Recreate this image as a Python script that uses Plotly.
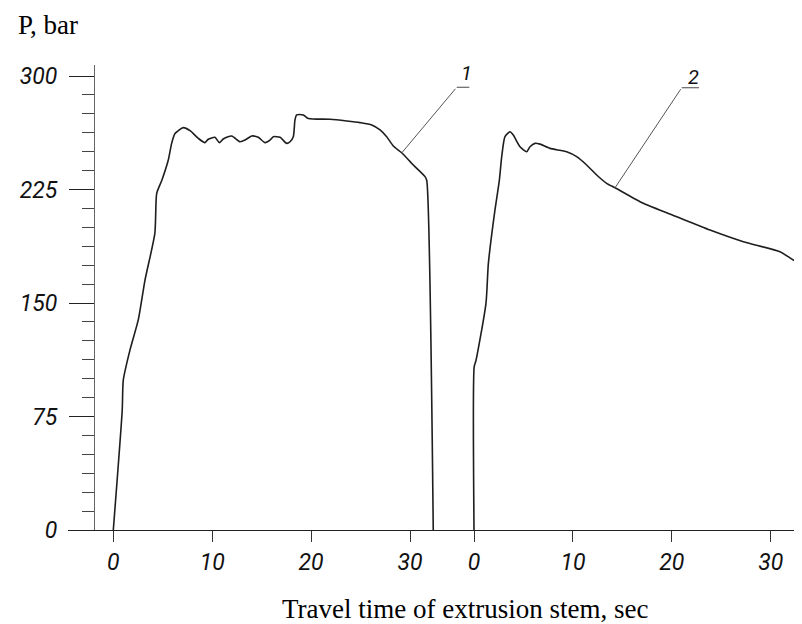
import plotly.graph_objects as go

# ---- data ----
# Curve 1: time (s) and pressure (bar)
t1 = [0, 0.9, 1.01, 1.69, 2.53, 3.2, 4.2, 4.39, 4.9, 5.56, 5.9, 6.24, 7.08, 7.76, 8.6,
      9.27, 9.6, 10.28, 10.72, 11.12, 11.97, 12.81, 13.32, 13.99, 14.66, 15.34, 15.84,
      16.18, 16.86, 17.53, 17.87, 18.2, 18.37, 18.54, 19.21, 19.72, 21.91, 23.6, 24.94,
      26.13, 26.97, 27.64, 28.31, 29.16, 30.33, 31.52, 31.69, 32.35]
p1 = [0, 79, 99, 119, 139, 165, 196, 222.5, 231, 244.5, 255.5, 262, 265.9, 263.9, 258.8,
      256, 258.2, 259.5, 256, 258.4, 260.4, 256.6, 257.7, 260.4, 259.5, 256, 257.7,
      259.9, 259.5, 255.5, 256.6, 259.9, 271, 274.3, 274.3, 272, 271.4, 270.3, 269.2,
      267.7, 264.4, 259.9, 253.8, 249.3, 241.2, 233.5, 231, 0]

# Curve 2
t2 = [0, 0.02, 0.2, 1.21, 1.45, 2.12, 2.56, 2.8, 3.13, 3.64, 3.97, 4.65, 5.33, 5.66, 6.17,
      6.67, 7.68, 9.37, 10.38, 11.39, 12.4, 13.41, 14.26, 17.12, 20.49, 23.86, 27.23,
      30.94, 32.29, 33.14]
p2 = [0, 108, 112, 149.8, 176, 211.5, 231, 246.7, 259.9, 263.2, 261, 253.3, 250, 253.3, 255.5,
      255, 252.2, 250, 246.7, 241.2, 234.6, 229.1, 226.2, 215.9, 207, 198.2, 190.5,
      183.9, 178.4, 175.8]

y_ticks = [0, 75, 150, 225, 300]
x_ticks = [0, 10, 20, 30]
curve_labels = ["1", "2"]
leader_points = [(29.2, 249.5), (14.26, 226.2)]   # where the leader lines touch the curves

# ---- geometry (page has an 8px body margin) ----
OFF = 8
W, H = 802 - OFF, 624 - OFF
ML, MR, MT, MB = 68 - OFF, 0, 65 - OFF, 94
PW, PH = W - ML - MR, H - MT - MB


def px(x):
    return (x - OFF - ML) / PW


def py(y):
    return (H - MB - (y - OFF)) / PH


tick_font = dict(family="Roboto", size=23, color="#111", style="italic")
curve_col = "#1e1e1e"

fig = go.Figure()
fig.add_trace(go.Scatter(x=t1, y=p1, mode="lines", xaxis="x", yaxis="y",
                         line=dict(color=curve_col, width=1.6, shape="spline", smoothing=0.6),
                         showlegend=False))
fig.add_trace(go.Scatter(x=t2, y=p2, mode="lines", xaxis="x2", yaxis="y",
                         line=dict(color=curve_col, width=1.6, shape="spline", smoothing=0.6),
                         showlegend=False))

split = 0.5204
X1R = [-4.58, 34.04]
X2R = [-2.43, 33.16]
YR = [0, 307.3]
xcommon = dict(showgrid=False, zeroline=False, showline=True, linecolor="#222", linewidth=1.3,
               ticks="outside", ticklen=11, tickwidth=1, tickcolor="#333",
               tickvals=x_ticks, tickfont=tick_font, anchor="y", ticklabelstandoff=0)
fig.update_layout(
    width=W, height=H,
    margin=dict(l=ML, r=MR, t=MT, b=MB, autoexpand=False),
    paper_bgcolor="white", plot_bgcolor="white",
    xaxis=dict(domain=[0, split], range=X1R, **xcommon),
    xaxis2=dict(domain=[split, 1], range=X2R, **xcommon),
    yaxis=dict(range=YR, anchor="free", position=px(94), showgrid=False, zeroline=False,
               showline=True, linecolor="#666", linewidth=1.3,
               tickvals=y_ticks, ticks="outside", ticklen=25, tickwidth=1, tickcolor="#222",
               tickfont=tick_font, ticklabelstandoff=7,
               minor=dict(dtick=12.5, tick0=0, ticks="outside", ticklen=12, tickwidth=1, tickcolor="#444")),
)

# axis titles
fig.add_annotation(text="P, bar", xref="paper", yref="paper", x=px(16), y=py(25),
                   xanchor="left", yanchor="middle", showarrow=False,
                   font=dict(family="Liberation Serif", size=27, color="black"))
fig.add_annotation(text="Travel time of extrusion stem, sec", xref="paper", yref="paper",
                   x=px(465), y=py(609), xanchor="center", yanchor="middle", showarrow=False,
                   font=dict(family="Liberation Serif", size=27, color="black"))

# curve labels: (label x, label y, underline x0, underline x1, underline y) in reference pixels
label_px = [(466.7, 73, 456.7, 469.3, 87.3), (693.3, 76.7, 681.7, 699, 87.7)]
axes = ["x", "x2"]


def head_px(xr, hx, hy):
    if xr == "x":
        xp = ML + (hx - X1R[0]) / (X1R[1] - X1R[0]) * split * PW
    else:
        xp = ML + split * PW + (hx - X2R[0]) / (X2R[1] - X2R[0]) * (1 - split) * PW
    yp = MT + PH - (hy - YR[0]) / (YR[1] - YR[0]) * PH
    return xp, yp


for lab, (hx, hy), (tx, ty, u0, u1, uy), xr in zip(curve_labels, leader_points, label_px, axes):
    fig.add_annotation(text=lab, xref="paper", yref="paper", x=px(tx), y=py(ty),
                       xanchor="center", yanchor="middle", showarrow=False,
                       font=dict(family="Roboto", size=20, color="#111", style="italic"))
    fig.add_shape(type="line", xref="paper", yref="paper", x0=px(u0), x1=px(u1), y0=py(uy), y1=py(uy),
                  line=dict(color="#666", width=1.2))
    xp, yp = head_px(xr, hx, hy)
    fig.add_annotation(text="", xref=xr, yref="y", x=hx, y=hy, showarrow=True, arrowhead=0,
                       arrowwidth=1, arrowcolor="#555", axref="pixel", ayref="pixel",
                       ax=(u0 - OFF) - xp, ay=(uy - OFF) - yp, standoff=0)

fig.write_html("out.html")
